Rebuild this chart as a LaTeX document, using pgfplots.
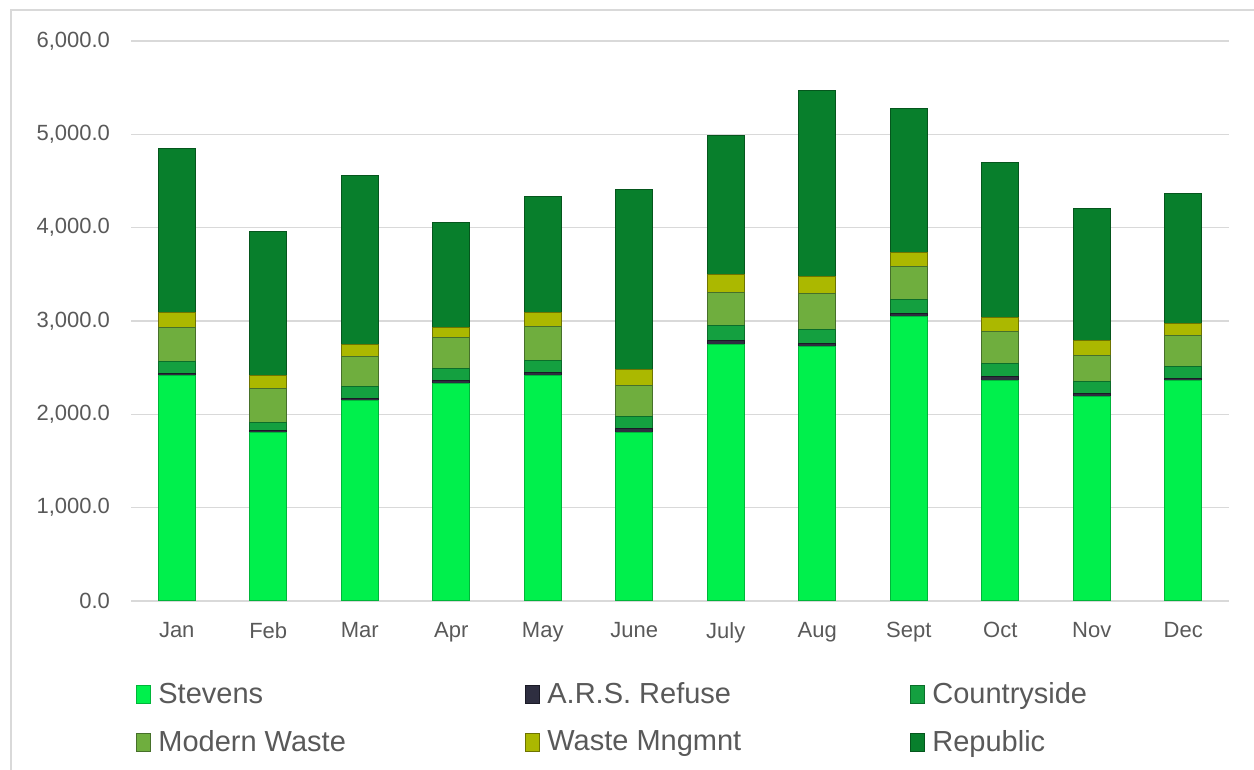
\documentclass[border=0pt]{standalone}
\usepackage{fontspec}
\setmainfont{Liberation Sans}
\usepackage{pgfplots}
\pgfplotsset{compat=1.18}
\usepackage{pgfplotstable}

\definecolor{txt}{HTML}{595959}
\definecolor{gridc}{HTML}{D9D9D9}
\definecolor{cS}{HTML}{00F04C}\definecolor{cSd}{HTML}{00B53A}
\definecolor{cA}{HTML}{2E2E40}\definecolor{cAd}{HTML}{1A1A26}
\definecolor{cC}{HTML}{14A040}\definecolor{cCd}{HTML}{0B6E2A}
\definecolor{cM}{HTML}{6FAE3E}\definecolor{cMd}{HTML}{46702A}
\definecolor{cW}{HTML}{ABB800}\definecolor{cWd}{HTML}{6E7400}
\definecolor{cR}{HTML}{087F2C}\definecolor{cRd}{HTML}{05561D}

\pgfplotstableread{
x S A C M W R
0 2414 26 121 364 161 1757
1 1803 29 78 368 143 1543
2 2143 25 125 325 125 1821
3 2325 37 125 339 107 1122
4 2421 32 129 357 154 1236
5 1803 43 129 336 168 1929
6 2743 43 161 357 190 1489
7 2725 36 143 393 178 1990
8 3046 36 143 357 150 1550
9 2361 43 143 339 154 1653
10 2189 36 124 286 161 1414
11 2361 26 124 332 125 1393
}\datatable

\pgfplotsset{myleg/.style={legend image code/.code={\draw[##1,line width=0.5pt] (0pt,-4.5pt) rectangle (7pt,4.5pt);}}}

\begin{document}
\begin{tikzpicture}
\useasboundingbox (0,0) rectangle (627pt,385pt);
\draw[gridc, line width=0.8pt] (5.5pt,-5pt) rectangle (640pt,380pt);
\begin{axis}[
  at={(65.5pt,84.5pt)}, anchor=south west,
  scale only axis, width=549pt, height=280pt,
  ybar stacked, bar width=18.5pt,
  xmin=-0.5, xmax=11.5, ymin=0, ymax=6000,
  enlargelimits=false,
  xtick={0,...,11},
  xticklabels={Jan,Feb,Mar,Apr,May,June,July,Aug,Sept,Oct,Nov,Dec},
  ytick={0,1000,...,6000},
  /pgf/number format/.cd, fixed, fixed zerofill, precision=1, 1000 sep={,}, assume math mode=true, /pgfplots/.cd,
  tick label style={font=\fontsize{11}{13}\selectfont, text=txt},
  xticklabel style={yshift=-7pt},
  yticklabel style={xshift=-7pt},
  axis line style={draw=none},
  major tick length=0pt,
  ymajorgrids, grid style={gridc, line width=0.8pt},
  legend columns=3,
  legend cell align=left,
  legend style={draw=none, fill=none, at={(0,0)}, anchor=north west, xshift=2.5pt, yshift=-38.5pt,
    inner sep=0pt, font=\fontsize{14.5}{16}\selectfont, text=txt, row sep=8pt,
    /tikz/every even column/.append style={column sep=0pt}},
]
\addplot[fill=cS, draw=cSd, line width=0.5pt, myleg] table[x=x,y=S]{\datatable};
\addlegendentry{\makebox[183pt][l]{\hspace{1.5pt}Stevens}}
\addplot[fill=cA, draw=cAd, line width=0.5pt, myleg] table[x=x,y=A]{\datatable};
\addlegendentry{\makebox[181pt][l]{\hspace{1.5pt}A.R.S. Refuse}}
\addplot[fill=cC, draw=cCd, line width=0.5pt, myleg] table[x=x,y=C]{\datatable};
\addlegendentry{\makebox[150pt][l]{\hspace{1.5pt}Countryside}}
\addplot[fill=cM, draw=cMd, line width=0.5pt, myleg] table[x=x,y=M]{\datatable};
\addlegendentry{\makebox[183pt][l]{\hspace{1.5pt}Modern Waste}}
\addplot[fill=cW, draw=cWd, line width=0.5pt, myleg] table[x=x,y=W]{\datatable};
\addlegendentry{\makebox[181pt][l]{\hspace{1.5pt}Waste Mngmnt}}
\addplot[fill=cR, draw=cRd, line width=0.5pt, myleg] table[x=x,y=R]{\datatable};
\addlegendentry{\makebox[150pt][l]{\hspace{1.5pt}Republic}}
\end{axis}
\end{tikzpicture}
\end{document}
